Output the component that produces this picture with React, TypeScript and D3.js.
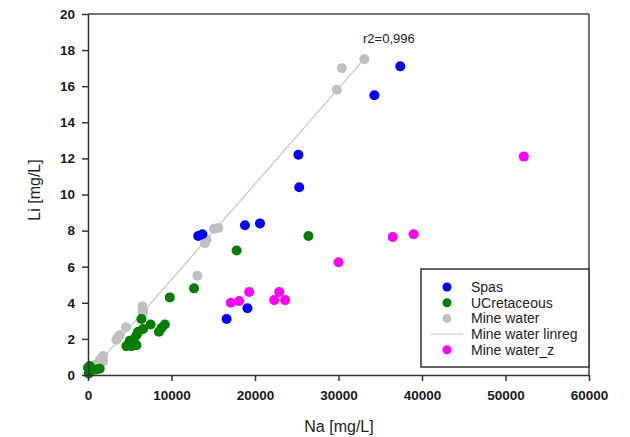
import { useEffect, useRef } from "react"
import { axisBottom, axisLeft, scaleLinear, select } from "d3"

// Na [mg/L], Li [mg/L]
const spasNa = [37400, 34300, 25200, 25300, 13200, 13700, 18800, 20600, 16600, 19100]
const spasLi = [17.1, 15.5, 12.2, 10.4, 7.7, 7.8, 8.3, 8.4, 3.1, 3.7]

const ucretNa = [26400, 17800, 12700, 9800, 6400, 7500, 6600, 6000, 5800, 9200, 8800, 8500,
  4600, 5200, 5600, 5400, 5000, 5800, 0, 100, 300, 1000, 1400, 200]
const ucretLi = [7.7, 6.9, 4.8, 4.3, 3.1, 2.8, 2.55, 2.4, 2.2, 2.8, 2.6, 2.4,
  1.6, 1.6, 1.75, 1.95, 1.9, 1.65, 0.4, 0.1, 0.2, 0.3, 0.35, 0.5]

const mineNa = [33100, 30400, 29800, 15100, 15600, 14000, 14200, 13100, 6500, 6600, 6550,
  4550, 3800, 3400, 3600, 1800, 1450, 1250, 1800, 850, 550, 250, 50]
const mineLi = [17.5, 17.0, 15.8, 8.1, 8.15, 7.3, 7.5, 5.5, 3.8, 3.6, 3.45,
  2.65, 2.2, 1.95, 2.1, 1.05, 0.85, 0.65, 0.75, 0.55, 0.4, 0.2, 0.05]

const mineZNa = [52200, 17100, 18100, 19300, 22300, 22900, 23600, 30000, 36500, 39000]
const mineZLi = [12.1, 4.0, 4.1, 4.6, 4.15, 4.6, 4.15, 6.25, 7.65, 7.8]

// Mine water linear regression
const regSlope = 0.000529
const regIntercept = 0
const regLabel = "r2=0,996"

const xTicks = [0, 10000, 20000, 30000, 40000, 50000, 60000]
const yTicks = [0, 2, 4, 6, 8, 10, 12, 14, 16, 18, 20]

const legendItems = [
  { label: "Spas", kind: "dot", color: "#0000ff" },
  { label: "UCretaceous", kind: "dot", color: "#007f00" },
  { label: "Mine water", kind: "dot", color: "#c0c0c0" },
  { label: "Mine water linreg", kind: "line", color: "#c4c4c4" },
  { label: "Mine water_z", kind: "dot", color: "#ff00ff" },
]

const font = "'Liberation Sans', Arial, sans-serif"

function AxisBottom({ scale, y }) {
  const ref = useRef(null)
  useEffect(() => {
    const g = select(ref.current)
    g.call(axisBottom(scale).tickValues(xTicks).tickFormat(d => String(d))
      .tickSize(6).tickSizeOuter(0).tickPadding(9))
    g.selectAll("path,line").attr("stroke", "#333").attr("stroke-width", 1.5)
    g.selectAll("text").attr("font-size", 13.5).attr("font-weight", "bold")
      .attr("font-family", font).attr("fill", "#1a1a1a")
  }, [scale])
  return <g ref={ref} transform={`translate(0,${y})`} />
}

function AxisLeft({ scale, x }) {
  const ref = useRef(null)
  useEffect(() => {
    const g = select(ref.current)
    g.call(axisLeft(scale).tickValues(yTicks).tickFormat(d => String(d))
      .tickSize(6).tickSizeOuter(0).tickPadding(7))
    g.selectAll("path,line").attr("stroke", "#333").attr("stroke-width", 1.5)
    g.selectAll("text").attr("font-size", 13.5).attr("font-weight", "bold")
      .attr("font-family", font).attr("fill", "#1a1a1a")
  }, [scale])
  return <g ref={ref} transform={`translate(${x},0)`} />
}

function Dots({ xs, ys, color, scaleX, scaleY }) {
  return (
    <>
      {xs.map((v, i) => (
        <circle key={i} cx={scaleX(v)} cy={scaleY(ys[i])} r={5} fill={color} />
      ))}
    </>
  )
}

export default function App() {
  const left = 88, right = 589, top = 14, bottom = 375
  const scaleX = scaleLinear().domain([0, 60000]).range([left, right])
  const scaleY = scaleLinear().domain([0, 20]).range([bottom, top])

  const regX0 = Math.min(...mineNa)
  const regX1 = Math.max(...mineNa)

  const lx = 421, ly = 269, lw = 168, lh = 98

  return (
    <svg width={630} height={437} style={{ position: "absolute", left: 0, top: 0, background: "#fff" }}>
      <rect x={0} y={0} width={630} height={437} fill="#fff" />
      {/* frame */}
      <line x1={left} x2={right} y1={top} y2={top} stroke="#444" strokeWidth={1.5} />
      <line x1={right} x2={right} y1={top} y2={bottom} stroke="#444" strokeWidth={1.5} />

      <line x1={scaleX(regX0)} y1={scaleY(regIntercept + regSlope * regX0)}
        x2={scaleX(regX1)} y2={scaleY(regIntercept + regSlope * regX1)}
        stroke="#c4c4c4" strokeWidth={1.2} />

      <Dots xs={mineNa} ys={mineLi} color="#c0c0c0" scaleX={scaleX} scaleY={scaleY} />
      <Dots xs={ucretNa} ys={ucretLi} color="#007f00" scaleX={scaleX} scaleY={scaleY} />
      <Dots xs={spasNa} ys={spasLi} color="#0000ff" scaleX={scaleX} scaleY={scaleY} />
      <Dots xs={mineZNa} ys={mineZLi} color="#ff00ff" scaleX={scaleX} scaleY={scaleY} />

      <text x={363} y={43} fontFamily={font} fontSize={13} fill="#222">{regLabel}</text>

      <AxisBottom scale={scaleX} y={bottom} />
      <AxisLeft scale={scaleY} x={left} />

      <text x={339} y={432} textAnchor="middle" fontFamily={font} fontSize={16} fill="#222">Na [mg/L]</text>
      <text transform={`translate(40,190) rotate(-90)`} textAnchor="middle" fontFamily={font} fontSize={16} fill="#222">Li [mg/L]</text>

      {/* legend */}
      <rect x={lx} y={ly} width={lw} height={lh} fill="#fff" stroke="#333" strokeWidth={1.5} />
      {legendItems.map((d, i) => {
        const yy = 287 + i * 15.7
        return (
          <g key={d.label}>
            {d.kind === "dot"
              ? <circle cx={447} cy={yy} r={4.5} fill={d.color} />
              : <line x1={431} x2={463} y1={yy} y2={yy} stroke={d.color} strokeWidth={1} />}
            <text x={471} y={yy + 4.8} fontFamily={font} fontSize={14} fill="#222">{d.label}</text>
          </g>
        )
      })}
    </svg>
  )
}
